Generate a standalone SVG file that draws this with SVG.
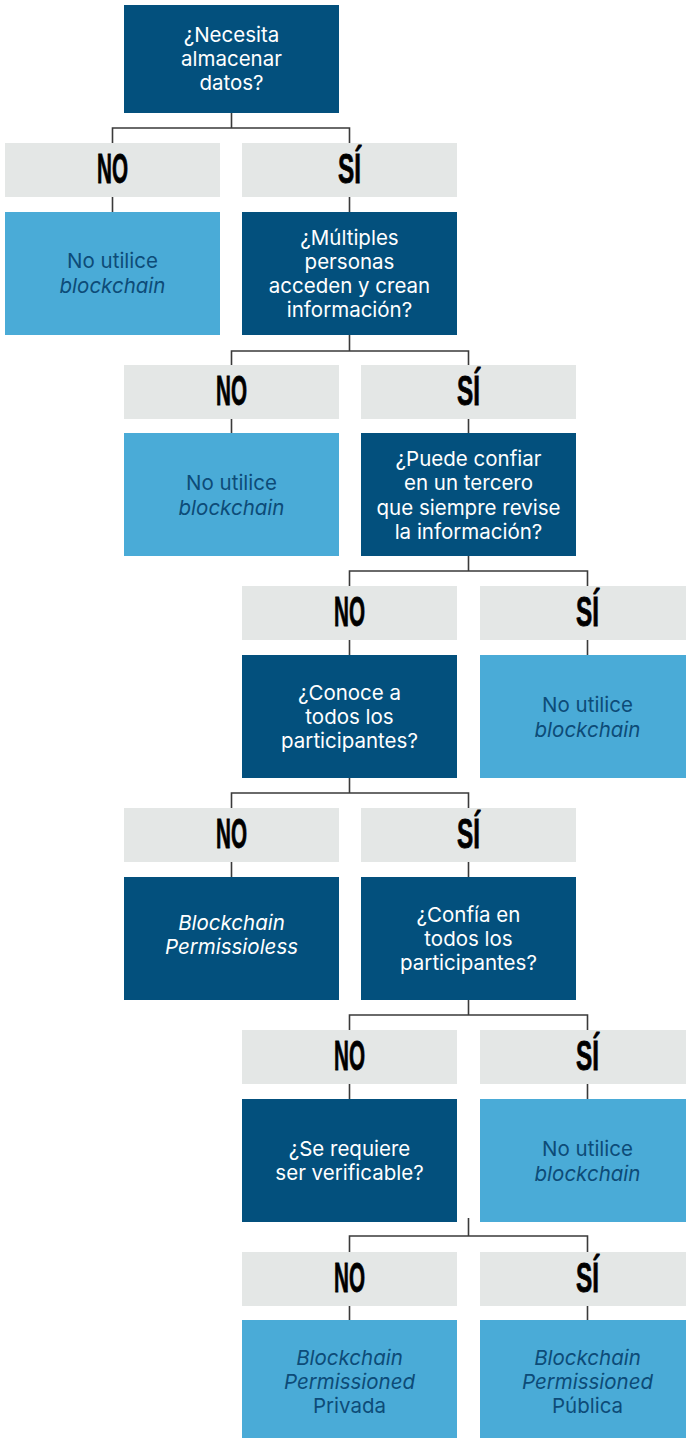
<svg xmlns="http://www.w3.org/2000/svg" width="686" height="1438" viewBox="0 0 686 1438">
<style>
.q{fill:#03507d}
.a{fill:#4aabd7}
.l{fill:#e4e7e6}
.c{fill:none;stroke:#3a3a3a;stroke-width:1.6}
.t{font-family:Inter,"Liberation Sans",sans-serif;font-size:20.5px;text-anchor:middle}
.w{fill:#ffffff}
.d{fill:#0d4b78}
.i{font-style:italic}
.y{font-family:"Liberation Sans",Arial,sans-serif;font-weight:bold;font-size:43px;text-anchor:middle;fill:#000;stroke:#000;stroke-width:0.8}
</style>
<rect width="686" height="1438" fill="#ffffff"/>
<g id="connectors" class="c">
<path d="M231.5 113V128M112.5 143V128H349.5V143M112.5 197V212M349.5 197V212"/>
<path d="M349.5 335V351M231.5 365V351H468.5V365M231.5 419V433M468.5 419V433"/>
<path d="M468.5 556V571M349.5 586V571H587.5V586M349.5 640V655M587.5 640V655"/>
<path d="M349.5 778V793M231.5 808V793H468.5V808M231.5 862V877M468.5 862V877"/>
<path d="M468.5 1000V1015M349.5 1030V1015H587.5V1030M349.5 1084V1099M587.5 1084V1099"/>
<path d="M468.5 1218V1236M349.5 1252V1236H587.5V1252M349.5 1306V1320M587.5 1306V1320"/>
</g>
<g id="q1"><rect class="q" x="124" y="5" width="215" height="108"/>
<text class="t w" x="231.5"><tspan x="231.5" y="42">¿Necesita</tspan><tspan x="231.5" y="66">almacenar</tspan><tspan x="231.5" y="90">datos?</tspan></text></g>
<g id="r1no"><rect class="l" x="5" y="143" width="215" height="54"/><text class="y" x="112.5" y="183" textLength="31" lengthAdjust="spacingAndGlyphs">NO</text></g>
<g id="r1si"><rect class="l" x="242" y="143" width="215" height="54"/><text class="y" x="349.5" y="183" textLength="23" lengthAdjust="spacingAndGlyphs">SÍ</text></g>
<g id="a1"><rect class="a" x="5" y="212" width="215" height="123"/>
<text class="t d"><tspan x="112.5" y="268">No utilice</tspan><tspan class="i" x="112.5" y="292.5">blockchain</tspan></text></g>
<g id="q2"><rect class="q" x="242" y="212" width="215" height="123"/>
<text class="t w"><tspan x="349.5" y="244.5">¿Múltiples</tspan><tspan x="349.5" y="268.8">personas</tspan><tspan x="349.5" y="293.1">acceden y crean</tspan><tspan x="349.5" y="317.4">información?</tspan></text></g>

<g id="r2no"><rect class="l" x="124" y="365" width="215" height="54"/><text class="y" x="231.5" y="405" textLength="31" lengthAdjust="spacingAndGlyphs">NO</text></g>
<g id="r2si"><rect class="l" x="361" y="365" width="215" height="54"/><text class="y" x="468.5" y="405" textLength="23" lengthAdjust="spacingAndGlyphs">SÍ</text></g>
<g id="a2"><rect class="a" x="124" y="433" width="215" height="123"/>
<text class="t d"><tspan x="231.5" y="490">No utilice</tspan><tspan class="i" x="231.5" y="514.5">blockchain</tspan></text></g>
<g id="q3"><rect class="q" x="361" y="433" width="215" height="123"/>
<text class="t w"><tspan x="468.5" y="466">¿Puede confiar</tspan><tspan x="468.5" y="490.3">en un tercero</tspan><tspan x="468.5" y="514.6">que siempre revise</tspan><tspan x="468.5" y="538.9">la información?</tspan></text></g>

<g id="r3no"><rect class="l" x="242" y="586" width="215" height="54"/><text class="y" x="349.5" y="626" textLength="31" lengthAdjust="spacingAndGlyphs">NO</text></g>
<g id="r3si"><rect class="l" x="480" y="586" width="215" height="54"/><text class="y" x="587.5" y="626" textLength="23" lengthAdjust="spacingAndGlyphs">SÍ</text></g>
<g id="q4"><rect class="q" x="242" y="655" width="215" height="123"/>
<text class="t w"><tspan x="349.5" y="699.5">¿Conoce a</tspan><tspan x="349.5" y="723.8">todos los</tspan><tspan x="349.5" y="748.1">participantes?</tspan></text></g>
<g id="a3"><rect class="a" x="480" y="655" width="215" height="123"/>
<text class="t d"><tspan x="587.5" y="712">No utilice</tspan><tspan class="i" x="587.5" y="736.5">blockchain</tspan></text></g>

<g id="r4no"><rect class="l" x="124" y="808" width="215" height="54"/><text class="y" x="231.5" y="848" textLength="31" lengthAdjust="spacingAndGlyphs">NO</text></g>
<g id="r4si"><rect class="l" x="361" y="808" width="215" height="54"/><text class="y" x="468.5" y="848" textLength="23" lengthAdjust="spacingAndGlyphs">SÍ</text></g>
<g id="a4"><rect class="q" x="124" y="877" width="215" height="123"/>
<text class="t w i"><tspan x="231.5" y="930">Blockchain</tspan><tspan x="231.5" y="954">Permissioless</tspan></text></g>
<g id="q5"><rect class="q" x="361" y="877" width="215" height="123"/>
<text class="t w"><tspan x="468.5" y="921.5">¿Confía en</tspan><tspan x="468.5" y="945.8">todos los</tspan><tspan x="468.5" y="970.1">participantes?</tspan></text></g>

<g id="r5no"><rect class="l" x="242" y="1030" width="215" height="54"/><text class="y" x="349.5" y="1070" textLength="31" lengthAdjust="spacingAndGlyphs">NO</text></g>
<g id="r5si"><rect class="l" x="480" y="1030" width="215" height="54"/><text class="y" x="587.5" y="1070" textLength="23" lengthAdjust="spacingAndGlyphs">SÍ</text></g>
<g id="q6"><rect class="q" x="242" y="1099" width="215" height="123"/>
<text class="t w"><tspan x="349.5" y="1155.5">¿Se requiere</tspan><tspan x="349.5" y="1180">ser verificable?</tspan></text></g>
<g id="a5"><rect class="a" x="480" y="1099" width="215" height="123"/>
<text class="t d"><tspan x="587.5" y="1156">No utilice</tspan><tspan class="i" x="587.5" y="1180.5">blockchain</tspan></text></g>

<g id="r6no"><rect class="l" x="242" y="1252" width="215" height="54"/><text class="y" x="349.5" y="1292" textLength="31" lengthAdjust="spacingAndGlyphs">NO</text></g>
<g id="r6si"><rect class="l" x="480" y="1252" width="215" height="54"/><text class="y" x="587.5" y="1292" textLength="23" lengthAdjust="spacingAndGlyphs">SÍ</text></g>
<g id="a6"><rect class="a" x="242" y="1320" width="215" height="118"/>
<text class="t d"><tspan class="i" x="349.5" y="1365">Blockchain</tspan><tspan class="i" x="349.5" y="1389">Permissioned</tspan><tspan x="349.5" y="1413">Privada</tspan></text></g>
<g id="a7"><rect class="a" x="480" y="1320" width="215" height="118"/>
<text class="t d"><tspan class="i" x="587.5" y="1365">Blockchain</tspan><tspan class="i" x="587.5" y="1389">Permissioned</tspan><tspan x="587.5" y="1413">Pública</tspan></text></g>
</svg>
